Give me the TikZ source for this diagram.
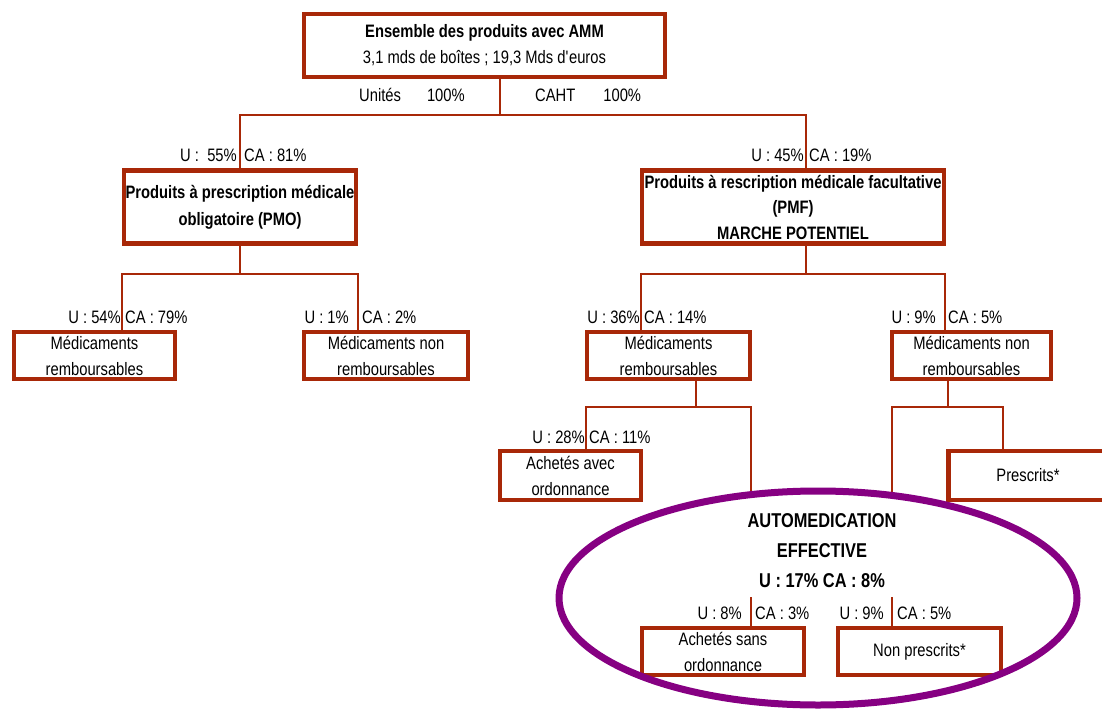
\documentclass[tikz,border=0pt]{standalone}
\usepackage{fontspec}
\setmainfont[FakeStretch=0.82]{Liberation Sans}
\usetikzlibrary{shapes.geometric}
\definecolor{brn}{RGB}{168,40,8}
\definecolor{purp}{RGB}{134,0,130}
\begin{document}
\begin{tikzpicture}[x=1pt,y=-1pt,
  box/.style={draw=brn,line width=4.5pt,fill=white,inner sep=0pt,align=center,font=\fontsize{18}{26}\selectfont},
  bbox/.style={box,font=\fontsize{18}{27}\selectfont\bfseries},
  lbl/.style={inner sep=0pt,font=\fontsize{18}{22}\selectfont},
  con/.style={draw=brn,line width=2pt}]
\useasboundingbox (0,0) rectangle (1102,711);
% coordinates of junctions
\coordinate (j0) at (500,115);
\coordinate (j0l) at (240,115);
\coordinate (j0r) at (806,115);
\coordinate (j1) at (240,274);
\coordinate (j1l) at (122,274);
\coordinate (j1r) at (358,274);
\coordinate (j2) at (806,274);
\coordinate (j2l) at (641,274);
\coordinate (j2r) at (945,274);
\coordinate (j3) at (696,407);
\coordinate (j3l) at (586,407);
\coordinate (j3r) at (751,407);
\coordinate (j4) at (948,407);
\coordinate (j4l) at (892,407);
\coordinate (j4r) at (1003,407);
\coordinate (e1) at (751,493);
\coordinate (e2) at (892,493);
\coordinate (t1) at (751,597);
\coordinate (t2) at (892,597);
% boxes
\node[box,minimum width=361pt,minimum height=63pt] (top) at (484.5,45.5) {\textbf{Ensemble des produits avec AMM}\\3,1 mds de boîtes ; 19,3 Mds d\textquotesingle euros};
\node[bbox,minimum width=232pt,minimum height=73pt] (pmo) at (240,207) {\raisebox{-3pt}{Produits à prescription médicale}\\\raisebox{-3pt}{obligatoire (PMO)}};
\node[bbox,minimum width=302pt,minimum height=73pt,font=\fontsize{18}{25.5}\selectfont\bfseries] (pmf) at (793,207) {Produits à rescription médicale facultative\\(PMF)\\MARCHE POTENTIEL};
\node[box,minimum width=161pt,minimum height=47pt] (mr1) at (94.5,355.5) {Médicaments\\remboursables};
\node[box,minimum width=164pt,minimum height=47pt] (mnr1) at (386,355.5) {Médicaments non\\remboursables};
\node[box,minimum width=163pt,minimum height=47pt] (mr2) at (668.5,355.5) {Médicaments\\remboursables};
\node[box,minimum width=159pt,minimum height=47pt] (mnr2) at (971.5,355.5) {Médicaments non\\remboursables};
\node[box,minimum width=141pt,minimum height=49pt] (aao) at (570.5,475.5) {Achetés avec\\ordonnance};
\node[box,minimum width=159pt,minimum height=49pt] (presc) at (1028,475.5) {Prescrits*};
\node[box,minimum width=162pt,minimum height=47pt] (aso) at (723,651.5) {Achetés sans\\ordonnance};
\node[box,minimum width=163pt,minimum height=47pt] (nps) at (919.5,651.5) {Non prescrits*};
% connectors
\draw[con] (top.south -| j0) -- (j0);
\draw[con] (pmo.north) -- (j0l) -- (j0r) -- (j0r |- pmf.north);
\draw[con] (pmo.south) -- (j1);
\draw[con] (j1l |- mr1.north) -- (j1l) -- (j1r) -- (j1r |- mnr1.north);
\draw[con] (j2 |- pmf.south) -- (j2);
\draw[con] (j2l |- mr2.north) -- (j2l) -- (j2r) -- (j2r |- mnr2.north);
\draw[con] (j3 |- mr2.south) -- (j3);
\draw[con] (j3l |- aao.north) -- (j3l) -- (j3r) -- (e1);
\draw[con] (j4 |- mnr2.south) -- (j4);
\draw[con] (e2) -- (j4l) -- (j4r) -- (j4r |- presc.north);
\draw[con] (t1) -- (t1 |- aso.north);
\draw[con] (t2) -- (t2 |- nps.north);
% ellipse
\node[draw=purp,line width=7pt,ellipse,inner sep=0pt,minimum width=518pt,minimum height=214pt] (ell) at (818,598) {};
\node[inner sep=0pt,align=center,font=\fontsize{20}{30}\selectfont\bfseries] (autotxt) at (822,551) {AUTOMEDICATION\\EFFECTIVE\\U : 17\% CA : 8\%};
% labels
\node[lbl,anchor=base east] (lu0) at (465,102) {Unités\hspace{26pt}100\%};
\node[lbl,anchor=base west] (lc0) at (535,102) {CAHT\hspace{28pt}100\%};
\node[lbl,anchor=base east] (lu1) at (237,162) {U :\ \ 55\%};
\node[lbl,anchor=base west] (lc1) at (244,162) {CA : 81\%};
\node[lbl,anchor=base east] (lu2) at (804,162) {U : 45\%};
\node[lbl,anchor=base west] (lc2) at (809,162) {CA : 19\%};
\node[lbl,anchor=base east] (lu3) at (121,323) {U : 54\%};
\node[lbl,anchor=base west] (lc3) at (125,323) {CA : 79\%};
\node[lbl,anchor=base east] (lu4) at (349,323) {U : 1\%};
\node[lbl,anchor=base west] (lc4) at (362,323) {CA : 2\%};
\node[lbl,anchor=base east] (lu5) at (640,323) {U : 36\%};
\node[lbl,anchor=base west] (lc5) at (644,323) {CA : 14\%};
\node[lbl,anchor=base east] (lu6) at (936,323) {U : 9\%};
\node[lbl,anchor=base west] (lc6) at (948,323) {CA : 5\%};
\node[lbl,anchor=base east] (lu7) at (585,443) {U : 28\%};
\node[lbl,anchor=base west] (lc7) at (589,443) {CA : 11\%};
\node[lbl,anchor=base east] (lu8) at (742,619) {U : 8\%};
\node[lbl,anchor=base west] (lc8) at (755,619) {CA : 3\%};
\node[lbl,anchor=base east] (lu9) at (884,619) {U : 9\%};
\node[lbl,anchor=base west] (lc9) at (897,619) {CA : 5\%};
\end{tikzpicture}
\end{document}
